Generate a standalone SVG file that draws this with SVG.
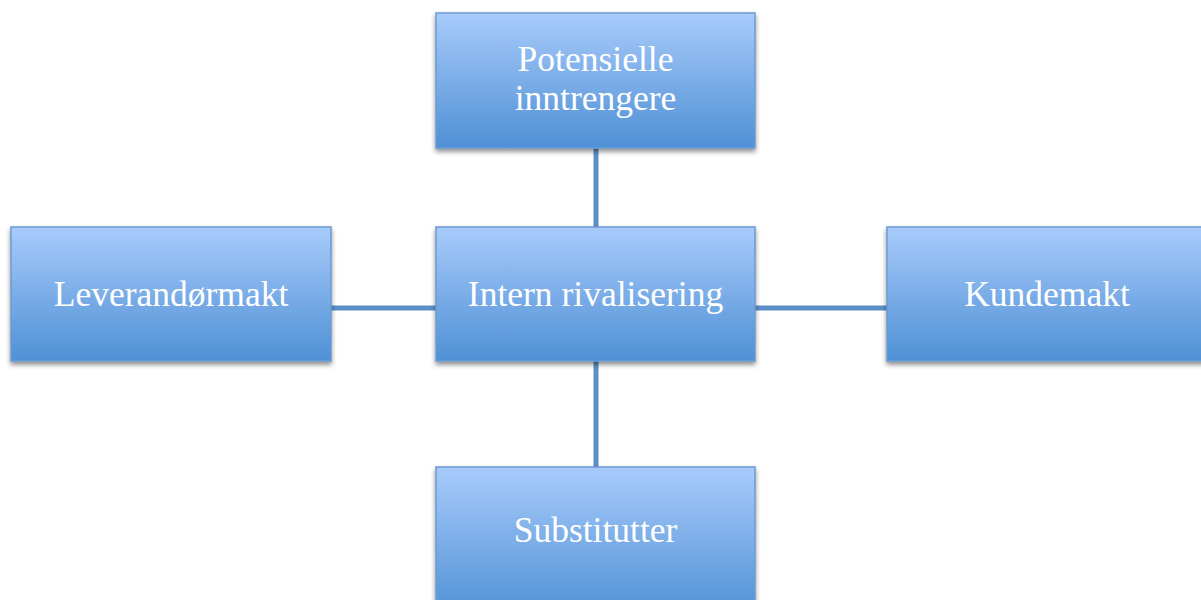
<svg xmlns="http://www.w3.org/2000/svg" width="1201" height="600" viewBox="0 0 1201 600">
<style>
.box{fill:url(#g);stroke:#6b9bd2;stroke-width:1.5;filter:url(#sh)}
.lbl{font-family:"Liberation Serif","Times New Roman",serif;font-size:35.5px;fill:#ffffff;text-anchor:middle}
.con{stroke:#5b8fc8;stroke-width:5;fill:none}
</style>
<defs>
<linearGradient id="g" x1="0" y1="0" x2="0" y2="1">
<stop offset="0" stop-color="#a8cbfb"/>
<stop offset="1" stop-color="#4f90d5"/>
</linearGradient>
<filter id="sh" x="-10%" y="-10%" width="120%" height="130%">
<feGaussianBlur in="SourceAlpha" stdDeviation="2.5"/>
<feOffset dx="0" dy="3" result="b"/>
<feComponentTransfer><feFuncA type="linear" slope="0.45"/></feComponentTransfer>
<feMerge><feMergeNode/><feMergeNode in="SourceGraphic"/></feMerge>
</filter>
</defs>
<g id="connectors">
<line class="con" x1="596" y1="148" x2="596" y2="228"/>
<line class="con" x1="596" y1="360" x2="596" y2="468"/>
<line class="con" x1="331" y1="308" x2="437" y2="308"/>
<line class="con" x1="755" y1="308" x2="888" y2="308"/>
</g>
<g id="potensielle">
<rect class="box" x="436" y="13" width="319" height="135"/>
<text class="lbl" x="595.5" y="71">Potensielle</text>
<text class="lbl" x="595.5" y="110">inntrengere</text>
</g>
<g id="leverandormakt">
<rect class="box" x="11" y="227" width="320" height="134"/>
<text class="lbl" x="171" y="306">Leverandørmakt</text>
</g>
<g id="intern">
<rect class="box" x="436" y="227" width="319" height="134"/>
<text class="lbl" x="595.5" y="306">Intern rivalisering</text>
</g>
<g id="kundemakt">
<rect class="box" x="887" y="227" width="330" height="134"/>
<text class="lbl" x="1047" y="306">Kundemakt</text>
</g>
<g id="substitutter">
<rect class="box" x="436" y="467" width="319" height="150"/>
<text class="lbl" x="595.5" y="542">Substitutter</text>
</g>
</svg>
